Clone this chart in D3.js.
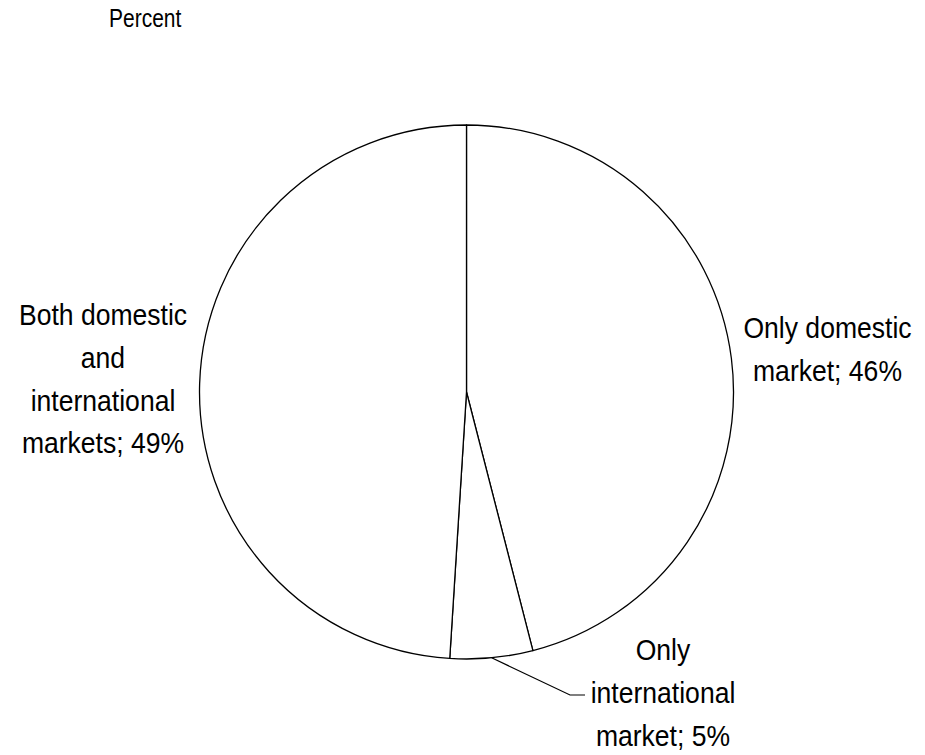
<!DOCTYPE html>
<html>
<head>
<meta charset="utf-8">
<script src="https://cdn.jsdelivr.net/npm/d3@7"></script>
<style>
  html, body { margin: 0; padding: 0; background: #fff; }
  svg { display: block; }
  text { font-family: "Liberation Sans", Arial, sans-serif; fill: #000; }
</style>
</head>
<body>
<svg id="chart" width="925" height="755"></svg>
<script>
// ---- Data ----
const categories = ["Only domestic market", "Only international market", "Both domestic and international markets"];
const values = [46, 5, 49];
const labelLines = [
  ["Only domestic", "market; 46%"],
  ["Only", "international", "market; 5%"],
  ["Both domestic", "and", "international", "markets; 49%"]
];
const unitLabel = "Percent";

// ---- Layout ----
const W = 925, H = 755;
const cx = 466.5, cy = 392, R = 267;
const svg = d3.select("#chart");

svg.append("text")
  .attr("transform", "translate(109,26.5) scale(0.84,1)")
  .attr("font-size", 25)
  .text(unitLabel);

const data = categories.map((c, i) => ({ cat: c, value: values[i], lines: labelLines[i] }));
const pie = d3.pie().sort(null).value(d => d.value);
const arcs = pie(data);
const arc = d3.arc().innerRadius(0).outerRadius(R);

const g = svg.append("g").attr("transform", `translate(${cx},${cy})`);
g.selectAll("path.slice")
  .data(arcs)
  .join("path")
  .attr("class", "slice")
  .attr("d", arc)
  .attr("fill", "#fff")
  .attr("stroke", "#000")
  .attr("stroke-width", 1.3)
  .attr("stroke-linejoin", "round");

// label anchor positions (centre x, first baseline y) and line height
const labelPos = [
  { x: 827.5, y: 338 },
  { x: 663, y: 660 },
  { x: 103, y: 325 }
];
const lineH = 42.8;
const fontSize = 30, sx = 0.885;

arcs.forEach((a, i) => {
  const p = labelPos[i];
  const tg = svg.append("g").attr("transform", `translate(${p.x},${p.y}) scale(${sx},1)`);
  tg.selectAll("text")
    .data(a.data.lines)
    .join("text")
    .attr("x", 0)
    .attr("y", (d, j) => j * lineH)
    .attr("text-anchor", "middle")
    .attr("font-size", fontSize)
    .text(d => d);
});

// leader line for the small slice
const small = arcs[1];
const mid = (small.startAngle + small.endAngle) / 2;
const p0 = [cx + R * Math.sin(mid), cy - R * Math.cos(mid)];
const p1 = [570, 695];
const p2 = [585, 695];
svg.append("path")
  .attr("d", d3.line()([p0, p1, p2]))
  .attr("fill", "none")
  .attr("stroke", "#000")
  .attr("stroke-width", 1.2);
</script>
</body>
</html>
